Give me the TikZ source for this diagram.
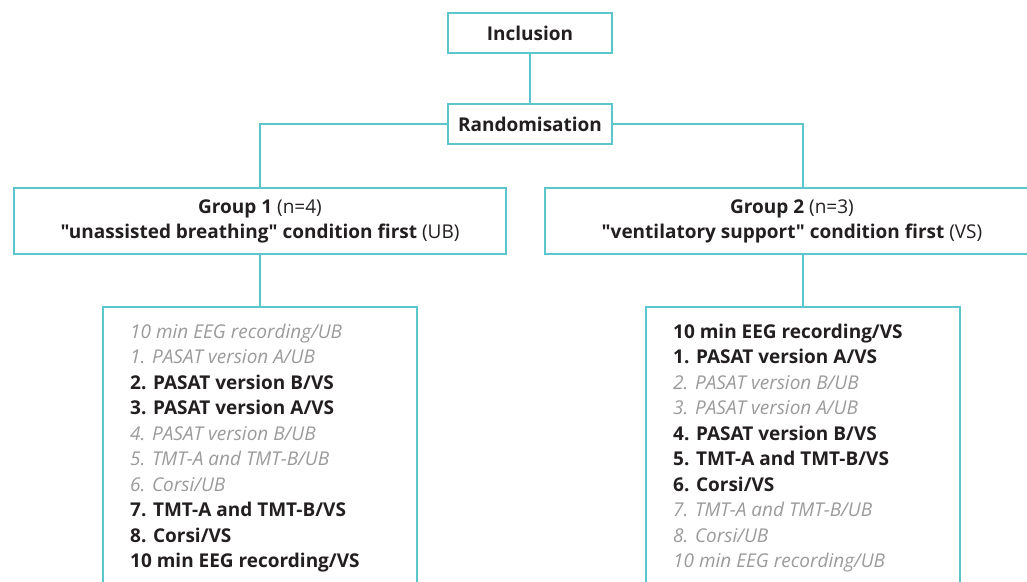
\documentclass[tikz,border=0pt]{standalone}
\usepackage{fontspec}
\setmainfont{Open Sans}[Ligatures=TeXOff]
\definecolor{boxteal}{HTML}{5BC7CC}
\definecolor{darktext}{HTML}{231F20}
\definecolor{graytext}{HTML}{9B9B9B}
\tikzset{
  box/.style={draw=boxteal, line width=1.8pt, fill=white, inner sep=0pt, text=darktext},
  conn/.style={draw=boxteal, line width=1.8pt},
  topfont/.style={font=\fontsize{19}{22}\selectfont\bfseries},
  grpfont/.style={font=\fontsize{19}{25}\selectfont, align=center},
  listdark/.style={anchor=base west, inner sep=0pt, font=\fontsize{19}{22}\selectfont\bfseries, text=darktext},
  listgray/.style={anchor=base west, inner sep=0pt, font=\fontsize{19}{22}\selectfont\itshape, text=graytext}
}
\begin{document}
\begin{tikzpicture}[x=1pt,y=-1pt]
\useasboundingbox[fill=white] (0,0) rectangle (1027,581);
% boxes
\node[box, topfont, minimum width=164pt, minimum height=40pt] (incl) at (530,33) {Inclusion};
\node[box, topfont, minimum width=164pt, minimum height=40pt] (rand) at (530,124) {Randomisation};
\node[box, grpfont, minimum width=492pt, minimum height=66pt] (g1) at (260,221)
  {\textbf{Group 1} (n=4)\\ \textbf{"unassisted breathing" condition first} (UB)};
\node[box, grpfont, minimum width=494pt, minimum height=66pt] (g2) at (792,221)
  {\textbf{Group 2} (n=3)\\ \textbf{"ventilatory support" condition first} (VS)};
\node[box, anchor=north west, minimum width=314pt, minimum height=320pt] (b1) at (102,306) {};
\node[box, anchor=north west, minimum width=314pt, minimum height=320pt] (b2) at (645,306) {};
% connectors
\draw[conn] (incl) -- (rand);
\draw[conn] (rand.west) -| (g1.north);
\draw[conn] (rand.east) -| (b2.north |- g2.north);
\draw[conn] (g1.south) -- (b1.north);
\draw[conn] (b2.north |- g2.south) -- (b2.north);
% list 1
\node[listgray] (l1a) at (130,338.0) {10 min EEG recording/UB};
\node[listgray] (l1b) at (130,363.5) {1. PASAT version A/UB};
\node[listdark] (l1c) at (130,389.0) {2. PASAT version B/VS};
\node[listdark] (l1d) at (130,414.5) {3. PASAT version A/VS};
\node[listgray] (l1e) at (130,440.0) {4. PASAT version B/UB};
\node[listgray] (l1f) at (130,465.5) {5. TMT-A and TMT-B/UB};
\node[listgray] (l1g) at (130,491.0) {6. Corsi/UB};
\node[listdark] (l1h) at (130,516.5) {7. TMT-A and TMT-B/VS};
\node[listdark] (l1i) at (130,542.0) {8. Corsi/VS};
\node[listdark] (l1j) at (130,567.5) {10 min EEG recording/VS};
% list 2
\node[listdark] (l2a) at (673,338.0) {10 min EEG recording/VS};
\node[listdark] (l2b) at (673,363.5) {1. PASAT version A/VS};
\node[listgray] (l2c) at (673,389.0) {2. PASAT version B/UB};
\node[listgray] (l2d) at (673,414.5) {3. PASAT version A/UB};
\node[listdark] (l2e) at (673,440.0) {4. PASAT version B/VS};
\node[listdark] (l2f) at (673,465.5) {5. TMT-A and TMT-B/VS};
\node[listdark] (l2g) at (673,491.0) {6. Corsi/VS};
\node[listgray] (l2h) at (673,516.5) {7. TMT-A and TMT-B/UB};
\node[listgray] (l2i) at (673,542.0) {8. Corsi/UB};
\node[listgray] (l2j) at (673,567.5) {10 min EEG recording/UB};
\end{tikzpicture}
\end{document}
